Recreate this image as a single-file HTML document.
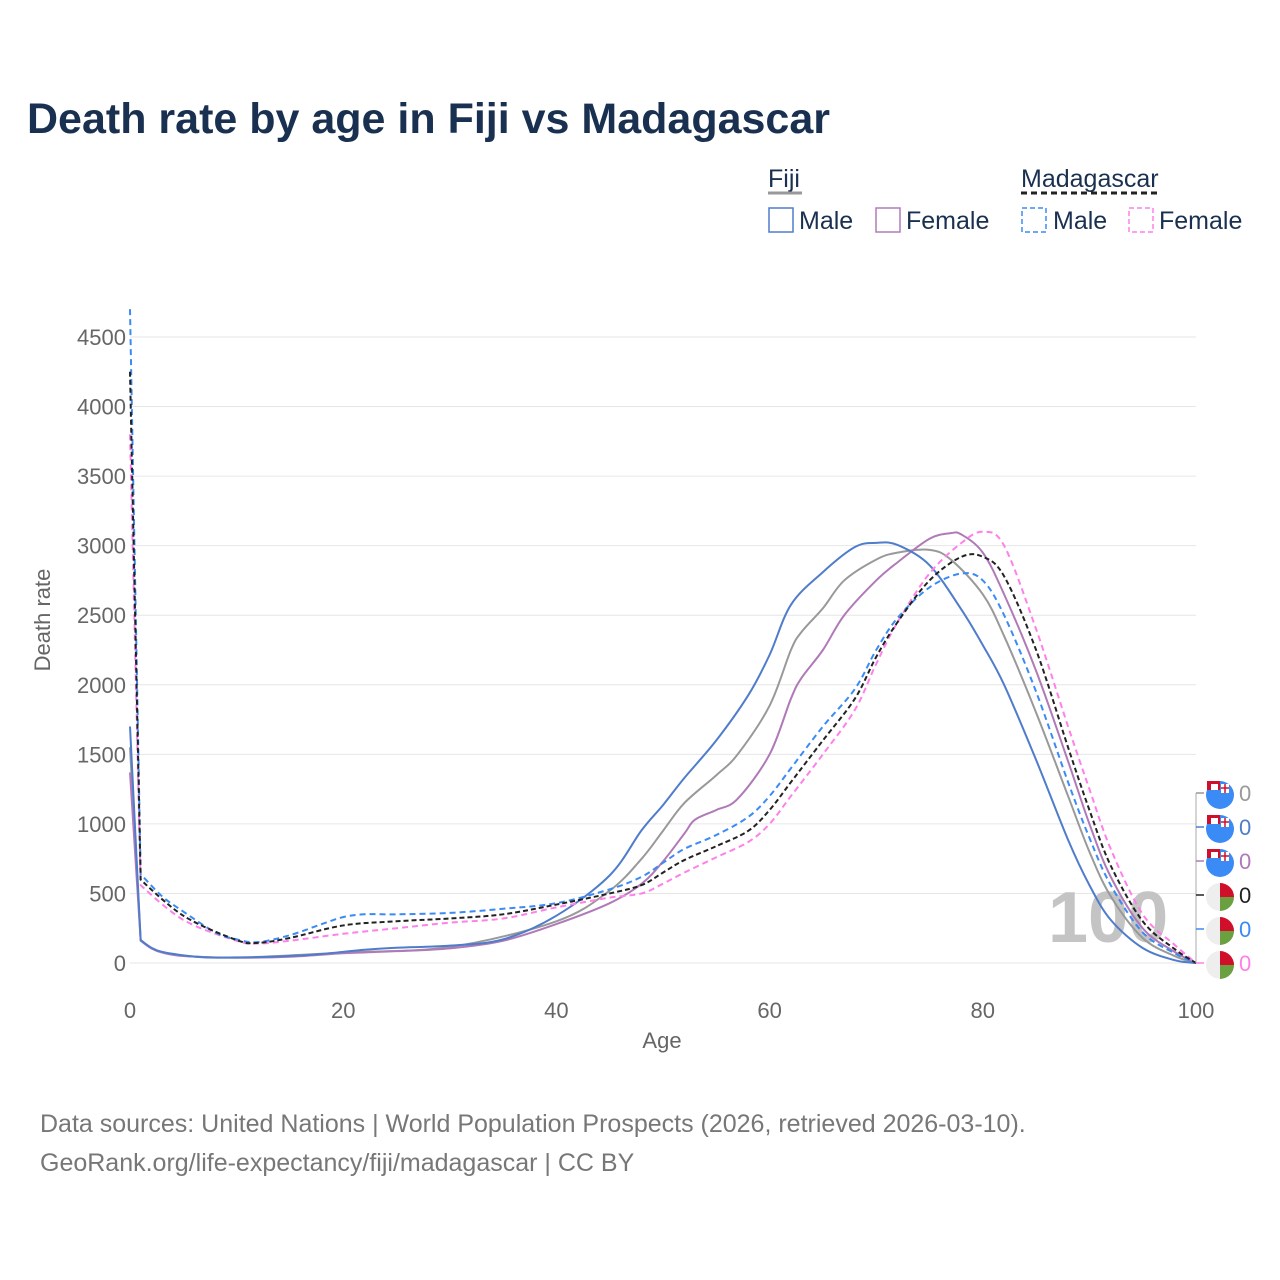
<!DOCTYPE html>
<html><head><meta charset="utf-8"><style>
body{margin:0;background:#fff;font-family:"Liberation Sans",sans-serif;}
#wrap{position:relative;width:1280px;height:1280px;overflow:hidden;}
</style></head><body>
<div id="wrap">
<svg id="svg" width="1280" height="1280" xmlns="http://www.w3.org/2000/svg">
<text x="27" y="133" font-size="43" font-weight="bold" fill="#1a3050">Death rate by age in Fiji vs Madagascar</text>
<g font-size="25" fill="#1a3050">
<text x="768" y="187">Fiji</text>
<line x1="768" y1="193" x2="802" y2="193" stroke="#999" stroke-width="3"/>
<text x="1021" y="187">Madagascar</text>
<line x1="1021" y1="193" x2="1159" y2="193" stroke="#222" stroke-width="3" stroke-dasharray="6,4"/>
<g><rect x="769" y="208" width="24" height="24" fill="none" stroke="#4f7ccb" stroke-width="1.5"/><text x="799" y="229">Male</text></g>
<g><rect x="876" y="208" width="24" height="24" fill="none" stroke="#b07ab8" stroke-width="1.5"/><text x="906" y="229">Female</text></g>
<g><rect x="1022" y="208" width="24" height="24" fill="none" stroke="#3a8bf5" stroke-width="1.5" stroke-dasharray="5,3"/><text x="1053" y="229">Male</text></g>
<g><rect x="1129" y="208" width="24" height="24" fill="none" stroke="#ff80e8" stroke-width="1.5" stroke-dasharray="5,3"/><text x="1159" y="229">Female</text></g>
</g>
<g id="grid"></g>
<text x="1048" y="942" font-size="72" font-weight="bold" fill="#c4c4c4">100</text>
<g id="series"></g>
<text x="662" y="1048" font-size="22" fill="#666" text-anchor="middle">Age</text>
<text transform="translate(50,620) rotate(-90)" font-size="22" fill="#666" text-anchor="middle">Death rate</text>
<g id="ends"></g>
<text x="40" y="1132" font-size="25" fill="#777">Data sources: United Nations | World Population Prospects (2026, retrieved 2026-03-10).</text>
<text x="40" y="1171" font-size="25" fill="#777">GeoRank.org/life-expectancy/fiji/madagascar | CC BY</text>
</svg>
</div>
<script>
const yTicks=[0,500,1000,1500,2000,2500,3000,3500,4000,4500];
const xTicks=[0,20,40,60,80,100];
const fijiMaleAges=[0,1,2,3,5,7,10,12,15,18,20,22,25,30,35,40,45,48,50,52,55,58,60,62,65,68,70,72,75,78,80,82,85,88,90,92,95,98,100];
const fijiMaleVals=[1700,165,110,80,55,40,40,42,50,65,80,95,110,125,170,340,630,955,1135,1330,1600,1925,2215,2575,2810,2990,3020,3005,2860,2540,2285,2000,1460,885,560,310,108,20,0];
const fijiFemaleAges=[0,1,2,3,5,10,15,20,25,30,35,40,45,48,50,52,53,55,57,60,62,63,65,67,70,72,75,77,78,80,82,85,88,90,92,95,98,100];
const fijiFemaleVals=[1370,160,105,75,50,38,45,70,85,105,160,280,430,570,730,930,1030,1100,1180,1500,1900,2050,2250,2500,2750,2880,3050,3090,3080,2950,2650,2100,1450,1000,620,250,80,0];
const fijiTotalAges=[0,1,2,3,5,10,20,30,40,45,48,50,52,55,57,60,62,63,65,67,70,72,75,77,80,82,85,88,90,92,95,98,100];
const fijiTotalVals=[1550,165,108,78,52,39,75,115,300,520,750,950,1150,1350,1500,1850,2250,2380,2550,2750,2900,2950,2970,2900,2650,2350,1800,1200,800,480,180,50,0];
const madMaleAges=[0,1,3,5,8,10,12,15,18,20,22,25,30,35,40,45,48,50,52,55,58,60,62,65,68,70,72,75,78,80,82,85,88,90,92,95,98,100];
const madMaleVals=[4700,640,480,370,220,170,150,200,280,330,350,350,360,390,430,530,620,720,820,920,1050,1200,1400,1700,1970,2250,2480,2700,2800,2750,2500,1950,1300,900,560,220,70,0];
const madTotalAges=[0,1,5,10,12,15,20,25,30,35,40,45,48,50,52,55,58,60,62,65,68,70,72,75,78,80,82,85,88,90,92,95,98,100];
const madTotalVals=[4250,600,340,165,145,180,270,300,320,350,420,500,560,650,740,840,950,1100,1300,1600,1900,2200,2450,2750,2920,2920,2780,2250,1550,1100,700,300,100,0];
const madFemaleAges=[0,1,5,10,12,15,20,25,30,35,40,45,48,50,52,55,58,60,62,65,68,70,72,75,78,80,82,85,88,90,92,95,98,100];
const madFemaleVals=[3800,560,310,160,140,160,210,250,290,320,400,470,500,570,650,760,870,1000,1200,1500,1820,2150,2450,2800,3020,3100,3000,2400,1700,1250,820,350,130,0];
const endValues=[0,0,0,0,0,0];

const NS='http://www.w3.org/2000/svg';
const X=a=>130+a*(1196-130)/100;
const Y=v=>963-v*(963-337)/4500;
function mk(t,attrs,parent){const e=document.createElementNS(NS,t);for(const k in attrs)e.setAttribute(k,attrs[k]);parent.appendChild(e);return e;}
const grid=document.getElementById('grid');
yTicks.forEach(v=>{
  const l=mk('line',{x1:130,x2:1196,y1:Y(v),y2:Y(v),stroke:'#e6e6e6','stroke-width':1},grid);
  
  
  const t=mk('text',{x:126,y:Y(v)+8,'text-anchor':'end','font-size':22,fill:'#666'},grid);
  t.textContent=v;
  
  
});
xTicks.forEach(a=>{
  const t=mk('text',{x:X(a),y:1018,'text-anchor':'middle','font-size':22,fill:'#666'},grid);
  t.textContent=a;
  
  
});
function path(ages,vals){
  const p=ages.map((a,i)=>[X(a),Y(vals[i])]);
  let d='M'+p[0][0]+','+p[0][1];
  for(let i=0;i<p.length-1;i++){
    const p0=p[Math.max(0,i-1)],p1=p[i],p2=p[i+1],p3=p[Math.min(p.length-1,i+2)];
    const s1=i<=1?0:1/6, s2=i===0?0:1/6;
    const c1=[p1[0]+(p2[0]-p0[0])*s1,p1[1]+(p2[1]-p0[1])*s1];
    const c2=[p2[0]-(p3[0]-p1[0])*s2,p2[1]-(p3[1]-p1[1])*s2];
    d+=' C'+c1[0]+','+c1[1]+' '+c2[0]+','+c2[1]+' '+p2[0]+','+p2[1];
  }
  return d;
}
const sg=document.getElementById('series');
const defs=[
 [fijiTotalAges,fijiTotalVals,'#999',null,'fiji-total-line'],
 [fijiFemaleAges,fijiFemaleVals,'#b07ab8',null,'fiji-female-line'],
 [fijiMaleAges,fijiMaleVals,'#4f7ccb',null,'fiji-male-line'],
 [madFemaleAges,madFemaleVals,'#ff80e8','6,4','madagascar-female-line'],
 [madMaleAges,madMaleVals,'#3a8bf5','6,4','madagascar-male-line'],
 [madTotalAges,madTotalVals,'#222','5,3','madagascar-total-line']
];
defs.forEach(s=>{
  const a={d:path(s[0],s[1]),fill:'none',stroke:s[2],'stroke-width':2};
  if(s[3])a['stroke-dasharray']=s[3];
  const e=mk('path',a,sg);
  
  
});
const eg=document.getElementById('ends');
const endColors=['#999','#4f7ccb','#b07ab8','#222','#3a8bf5','#ff80e8'];
const endY=[793,827,861,895,929,963];
mk('line',{x1:1196,x2:1196,y1:793,y2:963,stroke:'#aaa','stroke-width':1},eg);
endColors.forEach((c,i)=>{
  const y=endY[i];
  mk('line',{x1:1196,x2:1204,y1:y,y2:y,stroke:c,'stroke-width':1.5},eg);
  const g=mk('g',{},eg);
  
  
  const cx=1220;
  if(i<3){
    mk('circle',{cx:cx,cy:y+2,r:14,fill:'#3a8bf5'},g);
    mk('rect',{x:cx-13,y:y-12,width:13,height:9,fill:'#d0102a'},g);
    mk('rect',{x:cx-9,y:y-9,width:7,height:6,fill:'#fff'},g);
    mk('rect',{x:cx+1,y:y-9,width:8,height:9,fill:'#fff'},g);
    mk('path',{d:`M${cx+5},${y-9}V${y}M${cx+1},${y-5}H${cx+9}`,stroke:'#d0102a','stroke-width':1.5},g);
  }else{
    mk('circle',{cx:cx,cy:y+2,r:14,fill:'#eee'},g);
    mk('path',{d:`M${cx},${y-12} A14,14 0 0 1 ${cx+14},${y+2} L${cx},${y+2}Z`,fill:'#d0102a'},g);
    mk('path',{d:`M${cx},${y+16} A14,14 0 0 0 ${cx+14},${y+2} L${cx},${y+2}Z`,fill:'#6aa040'},g);
  }
  const t=mk('text',{x:1239,y:y+8,'font-size':22,fill:c},eg);
  t.textContent=endValues[i];
  
  
});
</script>
</body></html>
